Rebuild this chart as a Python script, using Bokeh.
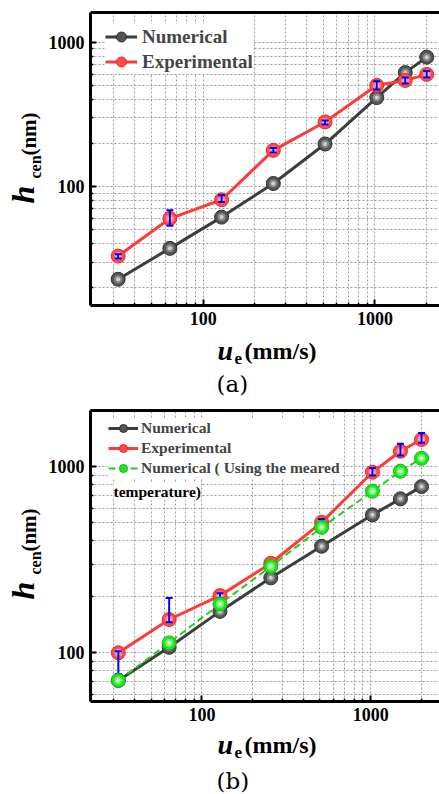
import math
from bokeh.plotting import figure
from bokeh.models import (ColumnDataSource, FixedTicker, LogAxis, Label, Legend,
                          LegendItem, BasicTickFormatter, Range1d)
from bokeh.core.properties import value
from bokeh.layouts import column, row
from bokeh.embed import file_html
from bokeh.resources import INLINE

# ---------------- data ----------------
u_e = [32, 64, 128, 256, 512, 1024, 1500, 2000]

a_numerical = [22.8, 37.3, 61.4, 105, 197, 413, 615, 787]
a_experimental = [33, 60, 81, 178, 280, 502, 543, 598]
a_err_lower = [31.8, 53.5, 78, 172, 269, 469, 518, 568]
a_err_upper = [34.0, 68.5, 87, 185, 287, 535, 568, 631]

b_numerical = [71, 107, 167, 253, 374, 552, 673, 783]
b_experimental = [100, 151, 203, 303, 503, 936, 1213, 1403]
b_err_lower = [77, 146, 197, 298, 490, 900, 1150, 1350]
b_err_upper = [102, 197, 209, 308, 525, 985, 1330, 1520]
b_measured_temp = [71, 113, 183, 291, 473, 739, 948, 1112]

x_major = [100, 1000]
x_tick_labels = ["100", "1000"]
x_minor = [20, 30, 40, 50, 60, 70, 80, 90, 200, 300, 400, 500, 600, 700, 800, 900, 2000, 3000]
y_major = [100, 1000]
y_tick_labels = ["100", "1000"]
y_minor = [10, 20, 30, 40, 50, 60, 70, 80, 90, 200, 300, 400, 500, 600, 700, 800, 900, 2000]

series_names = ["Numerical", "Experimental", "Numerical ( Using the meared"]
series_name_wrap = "temperature)"
panel_tags = ["(a)", "(b)"]

# ---------------- style ----------------
FONT = "Liberation Serif"
GRAY_LINE, GRAY_FILL, GRAY_EDGE, GRAY_HI = "#3d3d3d", "#555555", "#2e2e2e", "#b4b4b4"
RED_LINE, RED_FILL, RED_EDGE, RED_HI = "#ff3a3a", "#ff4a4a", "#e52a2a", "#ffc2c2"
GRN_LINE, GRN_FILL, GRN_EDGE, GRN_HI = "#1fcf1f", "#1ee41e", "#12b812", "#b6ffb6"
BLUE = "#0000ff"
W = 439
YW = 45  # width of the strip that carries the y title


def make_fig(height, top, bottom, xr, yr):
    p = figure(width=W - YW, height=height, x_axis_type="log", y_axis_type="log",
               x_range=Range1d(*xr), y_range=Range1d(*yr),
               output_backend="svg", toolbar_location=None,
               min_border_left=89 - YW, min_border_right=0,
               min_border_top=top, min_border_bottom=bottom)
    p.outline_line_color = None
    p.background_fill_color = "white"
    p.border_fill_color = "white"
    xt = FixedTicker(ticks=x_major, minor_ticks=x_minor)
    yt = FixedTicker(ticks=y_major, minor_ticks=y_minor)
    p.xaxis.ticker = xt
    p.yaxis.ticker = yt
    p.xgrid.ticker = xt
    p.ygrid.ticker = yt
    p.xaxis.formatter = BasicTickFormatter(use_scientific=False)
    p.yaxis.formatter = BasicTickFormatter(use_scientific=False)
    p.xaxis.major_label_overrides = {v: s for v, s in zip(x_major, x_tick_labels)}
    p.yaxis.major_label_overrides = {v: s for v, s in zip(y_major, y_tick_labels)}
    for ax in (p.xaxis, p.yaxis):
        ax.axis_line_width = 3
        ax.axis_line_color = "black"
        ax.major_tick_in = 6
        ax.major_tick_out = 0
        ax.minor_tick_in = 3
        ax.minor_tick_out = 0
        ax.major_tick_line_width = 2
        ax.minor_tick_line_width = 1.5
        ax.major_tick_line_color = "black"
        ax.minor_tick_line_color = "black"
        ax.major_label_text_font = FONT
        ax.major_label_text_font_style = "bold"
        ax.major_label_text_font_size = "18px"
        ax.major_label_text_color = "black"
        ax.major_label_standoff = 6
    for g in (p.xgrid, p.ygrid):
        g.grid_line_color = "#9a9a9a"
        g.grid_line_dash = "2 2"
        g.grid_line_width = 1
        g.minor_grid_line_color = "#9a9a9a"
        g.minor_grid_line_dash = "2 2"
        g.minor_grid_line_width = 1
    top_ax = LogAxis(ticker=FixedTicker(ticks=[]), axis_line_width=3,
                     major_tick_in=0, major_tick_out=0, minor_tick_in=0, minor_tick_out=0,
                     major_label_text_font_size="0px", major_label_standoff=0)
    p.add_layout(top_ax, "above")
    return p


def blank_fig(width, height, xr=(0, 1), yr=(0, 1), top=0, bottom=0):
    f = figure(width=width, height=height, x_range=Range1d(*xr), y_range=Range1d(*yr),
               output_backend="svg", toolbar_location=None,
               x_axis_location=None, y_axis_location=None,
               min_border_left=0, min_border_right=0,
               min_border_top=top, min_border_bottom=bottom)
    f.grid.visible = False
    f.outline_line_color = None
    f.background_fill_color = "white"
    f.border_fill_color = "white"
    return f


def series(p, src, col, line_color, fill, edge, hi, dash="solid", lw=3):
    ln = p.line("x", col, source=src, line_color=line_color, line_width=lw, line_dash=dash)
    mk = p.scatter("x", col, source=src, size=14, fill_color=fill, line_color=edge, line_width=1)
    p.scatter("x", col, source=src, size=8, fill_color=hi, fill_alpha=0.55, line_color=None)
    p.scatter("x", col, source=src, size=4, fill_color="white", fill_alpha=0.6, line_color=None)
    return ln, mk


def errbars(p, src):
    p.segment(x0="x", y0="lo", x1="x", y1="hi", source=src, line_color=BLUE, line_width=2)
    p.scatter("x", "lo", source=src, marker="dash", size=7, line_color=BLUE, line_width=2)
    p.scatter("x", "hi", source=src, marker="dash", size=7, line_color=BLUE, line_width=2)


def add_text(p, text, x, y, size, style="bold", font=FONT, bg=None,
             align="left", baseline="middle"):
    lab = Label(x=x, y=y, x_units="screen", y_units="screen", text=text,
                text_font=font, text_font_style=style, text_font_size=size,
                text_color="black", text_align=align, text_baseline=baseline)
    if bg:
        lab.background_fill_color = bg
    p.add_layout(lab)


def y_title_strip(height, top, bottom):
    # data units of this strip = pixels counted up from the strip's bottom edge
    f = blank_fig(YW, height, xr=(0, YW), yr=(bottom, height - top), top=top, bottom=bottom)
    pieces = [("h", 22, 111, "32px", "bold italic"),
              ("cen", 34.6, 138.5, "16px", "bold"),
              ("(nm)", 28, 171.5, "21px", "bold")]
    for txt, xx, off, fs, st in pieces:
        f.text(x=[xx], y=[bottom + off], text=[txt], angle=math.pi / 2,
               text_align="center", text_baseline="middle",
               text_font=value(FONT), text_font_style=st,
               text_font_size=value(fs), text_color="black")
    return f


def x_title_strip(height, shift, tag, tag_y):
    f = blank_fig(W, height)
    add_text(f, "u", 217, 47.5 + shift, "28px", "bold italic")
    add_text(f, "e", 234, 38.8 + shift, "17px", "bold")
    add_text(f, "(mm/s)", 244, 46.2 + shift, "24px", "bold")
    add_text(f, tag, 216, tag_y, "23px", "normal", font="DejaVu Serif")
    return f


# ---------------- panel (a) ----------------
pa = make_fig(335, 12, 30, (22.09, 2374), (15.0, 1604))
src_a = ColumnDataSource(dict(x=u_e, num=a_numerical, exp=a_experimental,
                              lo=a_err_lower, hi=a_err_upper))
ln1, mk1 = series(pa, src_a, "num", GRAY_LINE, GRAY_FILL, GRAY_EDGE, GRAY_HI)
ln2, mk2 = series(pa, src_a, "exp", RED_LINE, RED_FILL, RED_EDGE, RED_HI)
errbars(pa, src_a)
leg_a = Legend(items=[LegendItem(label=series_names[0], renderers=[ln1, mk1]),
                      LegendItem(label=series_names[1], renderers=[ln2, mk2])],
               location=(15, 231), glyph_width=32, glyph_height=25, spacing=0,
               padding=4, margin=0, label_standoff=5, label_height=25,
               label_text_font=FONT, label_text_font_style="bold",
               label_text_font_size="19px", border_line_color=None,
               background_fill_color="white", background_fill_alpha=1.0)
pa.add_layout(leg_a)

# ---------------- panel (b) ----------------
pb = make_fig(331, 13, 27, (21.89, 2556), (54.7, 2010))
src_b = ColumnDataSource(dict(x=u_e, num=b_numerical, exp=b_experimental,
                              lo=b_err_lower, hi=b_err_upper, tmp=b_measured_temp))
ln1b, mk1b = series(pb, src_b, "num", GRAY_LINE, GRAY_FILL, GRAY_EDGE, GRAY_HI)
ln2b, mk2b = series(pb, src_b, "exp", RED_LINE, RED_FILL, RED_EDGE, RED_HI)
errbars(pb, src_b)
ln3b, mk3b = series(pb, src_b, "tmp", GRN_LINE, GRN_FILL, GRN_EDGE, GRN_HI, dash="7 4", lw=2)
leg_b = Legend(items=[LegendItem(label=series_names[0], renderers=[ln1b, mk1b]),
                      LegendItem(label=series_names[1], renderers=[ln2b, mk2b]),
                      LegendItem(label=series_names[2], renderers=[ln3b, mk3b])],
               location=(18, 223), glyph_width=30, glyph_height=20, spacing=0,
               padding=3, margin=0, label_standoff=3, label_height=20,
               label_text_font=FONT, label_text_font_style="bold",
               label_text_font_size="15.5px", border_line_color=None,
               background_fill_color="white", background_fill_alpha=1.0)
pb.add_layout(leg_b)
add_text(pb, series_name_wrap, 23, 210, "15.5px", "bold", bg="white", baseline="alphabetic")

layout = column(
    row(y_title_strip(335, 12, 30), pa, spacing=0),
    x_title_strip(62, 0, panel_tags[0], 14),
    row(y_title_strip(331, 13, 27), pb, spacing=0),
    x_title_strip(66, 3, panel_tags[1], 14),
    spacing=0,
)
open("out.html", "w").write(file_html(layout, INLINE))
